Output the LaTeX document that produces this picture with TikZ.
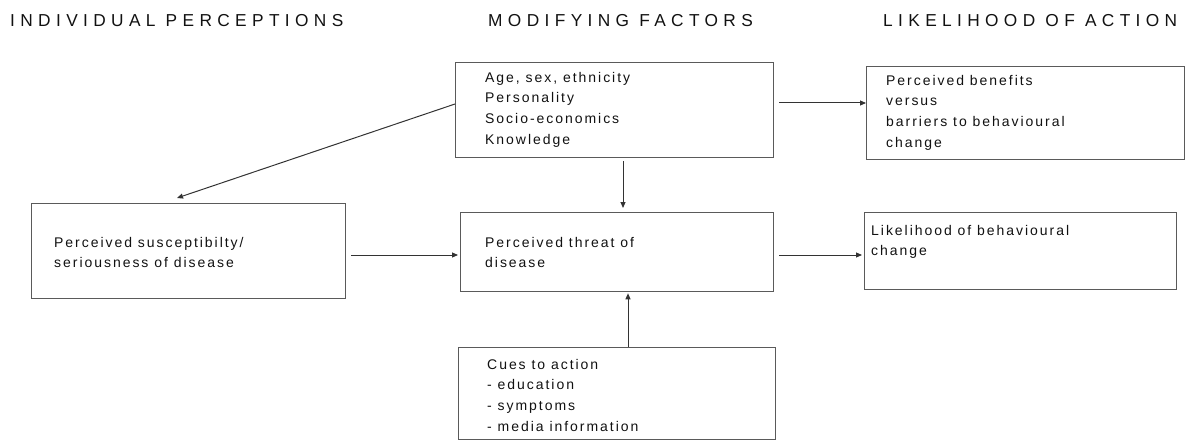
\documentclass[tikz,border=0pt]{standalone}
\usepackage{fontspec}
\setmainfont{Liberation Sans}
\newfontfamily\headfont[LetterSpace=31]{Liberation Sans}
\newfontfamily\boxfont[LetterSpace=14]{Liberation Sans}
\usetikzlibrary{arrows.meta}
\definecolor{boxline}{HTML}{5A5A5A}
\definecolor{arrline}{HTML}{333333}
\definecolor{ink}{HTML}{111111}
\begin{document}
\begin{tikzpicture}[x=1pt,y=-1pt,
  box/.style={draw=boxline, line width=1.3pt, anchor=north west, inner sep=0pt, fill=none},
  txt/.style={anchor=north west, inner sep=0pt, align=left, text=ink,
    font=\boxfont\fontsize{14}{20.7}\selectfont},
  head/.style={anchor=base west, inner sep=0pt, text=ink,
    font=\headfont\fontsize{17.3}{20}\selectfont},
  arr/.style={draw=arrline, line width=1pt, -{Triangle[length=6pt,width=5pt]}}]
\useasboundingbox (0,0) rectangle (1192,441);

% headers
\node[head] (h1) at (10,27) {INDIVIDUAL PERCEPTIONS};
\node[head] (h2) at (488,27) {MODIFYING FACTORS};
\node[head] (h3) at (883,27) {LIKELIHOOD OF ACTION};

% boxes
\node[box, minimum width=318pt, minimum height=95pt] (age) at (455,62) {};
\node[box, minimum width=318pt, minimum height=93pt] (ben) at (866,66) {};
\node[box, minimum width=314pt, minimum height=95pt] (susc) at (31,203) {};
\node[box, minimum width=313pt, minimum height=79pt] (threat) at (460,212) {};
\node[box, minimum width=312pt, minimum height=77pt] (likely) at (864,212) {};
\node[box, minimum width=317pt, minimum height=92pt] (cues) at (458,347) {};

% texts
\node[txt] (agetxt) at (485,71.5) {\rule{0pt}{10.5pt}Age, sex, ethnicity\\Personality\\Socio-economics\\Knowledge};
\node[txt] (bentxt) at (886,74.5) {\rule{0pt}{10.5pt}Perceived benefits\\versus\\barriers to behavioural\\change};
\node[txt] (susctxt) at (54,236.5) {\rule{0pt}{10.5pt}Perceived susceptibilty/\\seriousness of disease};
\node[txt] (threattxt) at (485,236.5) {\rule{0pt}{10.5pt}Perceived threat of\\disease};
\node[txt] (likelytxt) at (871,224.5) {\rule{0pt}{10.5pt}Likelihood of behavioural\\change};
\node[txt] (cuestxt) at (487,358.5) {\rule{0pt}{10.5pt}Cues to action\\- education\\- symptoms\\- media information};

% connectors
\draw[arr] ([xshift=5pt]age.east |- 0,103) -- (ben.west |- 0,103);
\draw[arr] (age.west |- 0,104) -- ([yshift=5pt]susc.north -| 177,0);
\draw[arr] ([yshift=-3pt]age.south -| 623,0) -- ([yshift=4pt]threat.north -| 623,0);
\draw[arr] ([xshift=5pt]susc.east |- 0,255) -- ([xshift=-2pt]threat.west |- 0,255);
\draw[arr] ([xshift=5pt]threat.east |- 0,255) -- ([xshift=-2pt]likely.west |- 0,255);
\draw[arr] (cues.north -| 628,0) -- ([yshift=-1pt]threat.south -| 628,0);
\end{tikzpicture}
\end{document}
